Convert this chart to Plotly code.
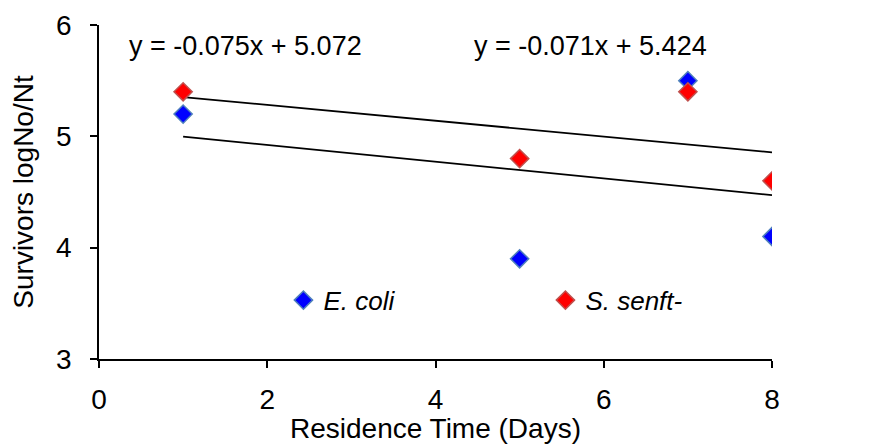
import plotly.graph_objects as go

days = [1, 5, 7, 8]
ecoli = [5.2, 3.9, 5.5, 4.1]
senft = [5.4, 4.8, 5.4, 4.6]

ecoli_slope, ecoli_intercept = -0.075, 5.072
senft_slope, senft_intercept = -0.071, 5.424
fit_x = [1, 8]

eq_ecoli = "y = -0.075x + 5.072"
eq_senft = "y = -0.071x + 5.424"

FONT = "Liberation Sans, Arial, sans-serif"

fig = go.Figure()
fig.add_trace(go.Scatter(
    x=fit_x, y=[ecoli_slope * v + ecoli_intercept for v in fit_x],
    mode="lines", line=dict(color="black", width=1.8), showlegend=False, hoverinfo="skip"))
fig.add_trace(go.Scatter(
    x=fit_x, y=[senft_slope * v + senft_intercept for v in fit_x],
    mode="lines", line=dict(color="black", width=1.8), showlegend=False, hoverinfo="skip"))
fig.add_trace(go.Scatter(
    x=days, y=ecoli, mode="markers", name="<i>E. coli</i>",
    marker=dict(symbol="diamond", size=14, color="#0000FF", line=dict(color="#4F81BD", width=1.5))))
fig.add_trace(go.Scatter(
    x=days, y=senft, mode="markers", name="<i>S. senft-</i>",
    marker=dict(symbol="diamond", size=14, color="#FF0000", line=dict(color="#C0504D", width=1.5))))

fig.add_annotation(x=0.33, y=5.81, xref="x", yref="y", text=eq_ecoli, showarrow=False,
                   xanchor="left", yanchor="middle", font=dict(size=27, color="black", family=FONT))
fig.add_annotation(x=4.43, y=5.81, xref="x", yref="y", text=eq_senft, showarrow=False,
                   xanchor="left", yanchor="middle", font=dict(size=27, color="black", family=FONT))

# page body has an 8px margin, so the figure is sized/offset to compensate
fig.update_layout(
    width=861, height=436,
    margin=dict(l=91, r=97, t=17, b=85, autoexpand=False),
    plot_bgcolor="white", paper_bgcolor="white",
    font=dict(family=FONT, color="black", size=28),
    legend=dict(orientation="h", x=0.274, y=0.176, xanchor="left", yanchor="middle",
                bgcolor="rgba(0,0,0,0)", font=dict(size=26),
                entrywidth=217, entrywidthmode="pixels", itemwidth=30),
    showlegend=True,
)
fig.update_xaxes(range=[0, 8], tickvals=[0, 2, 4, 6, 8], showgrid=False, zeroline=False,
                 showline=True, linecolor="black", linewidth=1.5, ticks="outside", ticklen=7,
                 tickcolor="black", tickwidth=1.5, ticklabelstandoff=8, automargin=False,
                 title=dict(text="Residence Time (Days)", standoff=6, font=dict(size=28)),
                 tickfont=dict(size=28))
fig.update_yaxes(range=[3, 6], tickvals=[3, 4, 5, 6], showgrid=False, zeroline=False,
                 showline=True, linecolor="black", linewidth=1.5, ticks="outside", ticklen=7,
                 tickcolor="black", tickwidth=1.5, ticklabelstandoff=13, automargin=False,
                 title=dict(text="Survivors logNo/Nt", standoff=14, font=dict(size=28)),
                 tickfont=dict(size=28))

fig.write_html("out.html")
